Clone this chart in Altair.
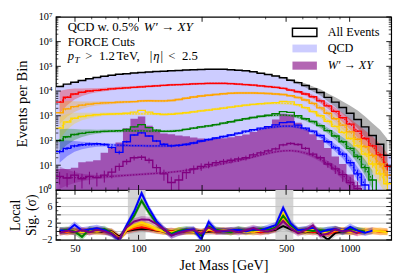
import altair as alt
import numpy as np
import pandas as pd

SERIF = "Liberation Serif"

# ---------------- binning (log-spaced jet-mass bins, GeV) ----------------
N_BINS = 45
M_MIN, M_MAX = 40.6, 1573.0
edges = np.geomspace(M_MIN, M_MAX, N_BINS + 1)
lo_e, hi_e = edges[:-1], edges[1:]
ctr = np.sqrt(lo_e * hi_e)

# ---------------- upper panel: log10(events per bin) ----------------
qcd_log = [4.18, 4.28, 4.36, 4.43, 4.50, 4.55, 4.60, 4.64, 4.68, 4.70, 4.72, 4.74, 4.77, 4.79, 4.80,
           4.82, 4.83, 4.85, 4.86, 4.87, 4.88, 4.88, 4.88, 4.86, 4.84, 4.82, 4.78, 4.72, 4.67, 4.60,
           4.52, 4.42, 4.33, 4.22, 4.08, 3.94, 3.74, 3.55, 3.33, 3.10, 2.85, 2.55, 2.20, 1.85, 1.40]
wprime_log = [0.85, 0.85, 0.90, 1.12, 1.15, 1.20, 1.50, 1.72, 1.92, 2.50, 2.88, 2.97, 2.60, 2.38, 2.28,
              2.25, 2.20, 2.17, 2.12, 2.08, 2.05, 2.06, 2.09, 2.13, 2.18, 2.24, 2.34, 2.45, 2.58, 2.85,
              3.08, 3.05, 2.72, 2.45, 2.25, 2.02, 1.70, 1.35, 1.05, 0.62, 0.20, None, None, None, None]
red_log = [3.55, 3.75, 3.88, 3.95, 4.00, 4.03, 4.06, 4.09, 4.11, 4.13, 4.15, 4.17, 4.19, 4.21, 4.23,
           4.25, 4.26, 4.27, 4.29, 4.30, 4.31, 4.31, 4.31, 4.30, 4.28, 4.26, 4.24, 4.21, 4.18, 4.15,
           4.11, 4.04, 3.97, 3.88, 3.77, 3.60, 3.40, 3.18, 2.92, 2.66, 2.38, 2.08, 1.78, 1.42, 0.95]
orange_log = [3.12, 3.28, 3.37, 3.43, 3.47, 3.50, 3.52, 3.53, 3.55, 3.56, 3.57, 3.60, 3.61, 3.60, 3.60,
              3.62, 3.66, 3.71, 3.76, 3.80, 3.83, 3.86, 3.89, 3.91, 3.92, 3.92, 3.92, 3.91, 3.90, 3.88,
              3.86, 3.81, 3.74, 3.64, 3.50, 3.32, 3.10, 2.88, 2.62, 2.35, 2.05, 1.75, 1.40, 1.05, 0.60]
gold_log = [2.50, 2.75, 2.90, 2.97, 3.01, 3.04, 3.06, 3.07, 3.08, 3.10, 3.15, 3.22, 3.15, 3.08, 3.05,
            3.06, 3.09, 3.12, 3.16, 3.20, 3.23, 3.27, 3.31, 3.35, 3.39, 3.43, 3.46, 3.49, 3.51, 3.53,
            3.58, 3.56, 3.45, 3.33, 3.17, 3.00, 2.78, 2.57, 2.33, 2.08, 1.78, 1.45, 1.05, 0.65, 0.25]
green_log = [2.00, 2.15, 2.24, 2.29, 2.33, 2.35, 2.37, 2.38, 2.40, 2.45, 2.55, 2.64, 2.52, 2.42, 2.37,
             2.37, 2.40, 2.45, 2.50, 2.55, 2.59, 2.64, 2.70, 2.76, 2.82, 2.88, 2.93, 2.98, 3.02, 3.08,
             3.17, 3.14, 3.00, 2.88, 2.77, 2.60, 2.40, 2.18, 1.95, 1.68, 1.35, 0.90, 0.40, None, None]
blue_log = [1.55, 1.68, 1.78, 1.83, 1.86, 1.87, 1.84, 1.72, 1.52, 1.95, 2.22, 2.31, 2.18, 1.98, 1.85,
            1.78, 1.80, 1.84, 1.90, 1.98, 2.04, 2.10, 2.16, 2.22, 2.30, 2.38, 2.44, 2.50, 2.56, 2.63,
            2.72, 2.75, 2.62, 2.50, 2.38, 2.20, 1.95, 1.70, 1.45, 1.10, 0.65, 0.20, None, None, None]
purple_log = [0.55, 0.48, 0.60, 0.45, 0.55, 0.50, 0.60, 0.72, 0.95, 1.15, 1.30, 1.32, 1.20, 0.90, 0.65,
              0.30, 0.40, 0.70, 0.85, 0.95, 1.03, 1.10, 1.15, 1.20, 1.25, 1.30, 1.42, 1.50, 1.58, 1.66,
              1.82, 1.88, 1.84, 1.68, 1.45, 1.30, 1.05, 0.85, 0.62, 0.30, 0.05, None, None, None, None]

# smooth background fits (dotted lines)
gold_fit = [2.50, 2.75, 2.90, 2.97, 3.01, 3.04, 3.06, 3.07, 3.08, 3.08, 3.08, 3.08, 3.08, 3.07, 3.06,
            3.07, 3.09, 3.12, 3.16, 3.20, 3.23, 3.27, 3.31, 3.35, 3.39, 3.43, 3.46, 3.48, 3.50, 3.51,
            3.51, 3.49, 3.43, 3.32, 3.17, 3.00, 2.78, 2.57, 2.33, 2.08, 1.78, 1.45, 1.05, 0.65, 0.25]
green_fit = [2.00, 2.15, 2.24, 2.29, 2.33, 2.35, 2.37, 2.38, 2.38, 2.39, 2.39, 2.39, 2.38, 2.38, 2.37,
             2.38, 2.40, 2.45, 2.50, 2.55, 2.59, 2.64, 2.70, 2.76, 2.82, 2.88, 2.93, 2.97, 3.00, 3.02,
             3.03, 3.01, 2.95, 2.86, 2.75, 2.60, 2.40, 2.18, 1.95, 1.68, 1.35, 0.90, 0.40, None, None]
blue_fit = [1.55, 1.68, 1.76, 1.80, 1.82, 1.83, 1.83, 1.82, 1.81, 1.80, 1.79, 1.79, 1.78, 1.78, 1.78,
            1.79, 1.81, 1.85, 1.90, 1.97, 2.03, 2.09, 2.15, 2.21, 2.28, 2.35, 2.41, 2.46, 2.51, 2.55,
            2.58, 2.58, 2.54, 2.46, 2.35, 2.18, 1.95, 1.70, 1.45, 1.10, 0.65, 0.20, None, None, None]
purple_fit = [0.50, 0.50, 0.50, 0.50, 0.51, 0.52, 0.53, 0.55, 0.57, 0.59, 0.61, 0.63, 0.65, 0.67, 0.69,
              0.72, 0.75, 0.79, 0.84, 0.89, 0.95, 1.01, 1.07, 1.13, 1.19, 1.26, 1.33, 1.41, 1.48, 1.54,
              1.58, 1.59, 1.56, 1.49, 1.38, 1.24, 1.05, 0.85, 0.60, 0.30, 0.05, None, None, None, None]
# half width (in decades) of the fit uncertainty bands
band_hw = [0.45, 0.32, 0.22, 0.15, 0.11, 0.08, 0.07, 0.06, 0.06, 0.05, 0.05, 0.05, 0.05, 0.05, 0.05,
           0.05, 0.05, 0.05, 0.05, 0.05, 0.05, 0.05, 0.05, 0.05, 0.05, 0.05, 0.05, 0.05, 0.05, 0.05,
           0.05, 0.05, 0.06, 0.07, 0.08, 0.10, 0.12, 0.15, 0.18, 0.22, 0.27, 0.32, 0.38, 0.45, 0.50]
all_band_hw = [0.02, 0.02, 0.02, 0.02, 0.02, 0.02, 0.02, 0.02, 0.02, 0.02, 0.02, 0.02, 0.02, 0.02, 0.02,
               0.02, 0.02, 0.02, 0.02, 0.02, 0.02, 0.02, 0.02, 0.02, 0.02, 0.02, 0.02, 0.02, 0.02, 0.02,
               0.03, 0.04, 0.06, 0.08, 0.10, 0.13, 0.16, 0.20, 0.25, 0.30, 0.36, 0.42, 0.50, 0.58, 0.66]

# ---------------- lower panel: local significance (sigma) ----------------
sig_black = [0.0, 0.1, -0.1, 0.0, 0.1, 0.0, -0.1, 0.0, -1.2, 0.1, 0.4, 0.6, 0.5, 0.2, 0.0,
             0.1, -0.1, 0.0, 0.1, 0.0, -0.1, 0.1, 0.0, 0.2, 0.0, 0.1, -0.1, 0.0, 0.1, 0.4,
             1.3, 0.5, 0.0, -0.2, 0.1, -0.6, -2.0, -0.4, 0.1, 0.0, 0.1, None, None, None, None]
sig_red = [0.1, -0.2, 0.2, 0.1, -0.1, 0.2, 0.0, -0.1, -1.5, 0.2, 0.7, 1.0, 0.7, 0.3, 0.0,
           0.1, -0.2, 0.1, 0.0, -0.2, 0.3, 0.0, 0.1, -0.1, 0.2, 0.0, 0.1, -0.2, 0.3, 0.6,
           2.8, 1.0, 0.0, 0.2, -0.2, 0.1, -0.6, 0.0, 0.2, 0.1, -0.3, 0.0, 0.2, -0.1, 0.0]
sig_orange = [-0.2, 0.3, 0.1, 0.0, 0.3, -0.1, 0.2, -0.2, -1.7, 0.3, 1.1, 1.6, 1.1, 0.4, 0.1,
              -0.2, 0.3, 0.0, 0.2, -0.3, 0.4, 0.1, 0.3, 0.0, 0.2, 0.1, -0.2, 0.3, 0.1, 0.8,
              3.3, 1.2, 0.2, -0.1, 0.3, 0.0, -0.4, 0.2, 0.3, -0.2, 0.1, 0.3, 0.0, 0.2, -0.1]
sig_gold = [0.3, 0.0, 0.2, -0.2, 0.1, 0.4, 0.0, -0.3, -1.8, 0.5, 1.5, 2.2, 1.5, 0.6, 0.0,
            -0.3, 0.2, 0.1, -0.1, -0.4, 0.6, 0.3, 0.0, 0.2, 0.4, -0.2, 0.3, 0.1, 0.2, 1.2,
            4.5, 1.8, 0.0, 0.3, 0.5, 0.0, -0.3, 0.4, 0.2, 0.0, 0.3, -0.1, 0.2, 0.0, -0.2]
sig_green = [0.2, 0.4, 0.0, -1.3, 0.5, 0.3, 0.6, -0.4, -1.9, 1.2, 3.8, 7.4, 4.5, 2.0, 0.3,
             -0.5, 0.2, 0.5, 0.2, -1.0, 1.2, 0.4, 0.1, -0.2, 0.5, 0.2, 0.3, 0.6, 0.4, 1.0,
             3.8, 1.5, 0.2, 0.4, 0.1, 0.3, 0.2, 0.5, -0.1, 0.6, 0.3, 0.0, None, None, None]
sig_blue = [0.3, 0.1, 1.6, 0.2, 0.5, 0.8, 0.3, -0.6, -2.1, 1.5, 4.8, 9.2, 5.5, 2.5, 0.5,
            -0.9, -0.2, 0.3, 0.5, -1.9, 2.3, 0.2, 0.0, 0.3, 0.4, 0.0, 0.5, 0.3, 0.9, 1.5,
            5.7, 2.0, 0.3, 0.5, 0.9, -0.2, 0.4, 0.6, 0.0, 1.1, 0.2, -0.3, 0.2, None, None]
sig_purple = [-0.3, 0.2, -0.1, 0.3, -0.2, 0.4, 0.0, -0.5, -1.8, 1.0, 2.4, 2.9, 2.8, 1.8, 0.5,
              -1.0, -0.3, 0.1, 0.3, -0.5, 1.0, 0.0, 0.2, 0.2, -0.2, 0.3, 0.8, 0.2, 0.0, 0.7,
              2.5, 0.8, -0.4, 0.3, 1.5, -1.0, -0.5, 0.5, 0.0, 0.2, -0.4, None, None, None, None]
SIG_BAND = 0.8
signal_windows_lo = [89.0, 445.0]
signal_windows_hi = [108.0, 541.0]

# tick positions
x_major = [50, 100, 200, 500, 1000]
x_minor = [60, 70, 80, 90, 300, 400, 600, 700, 800, 900]
y_major = [10.0 ** k for k in range(8)]
y_minor = [m * 10.0 ** k for k in range(7) for m in range(2, 10)]
s_major = [-2, 0, 2, 4, 6, 8]
s_minor = [-1, 1, 3, 5, 7, 9]
s_grid = [0, 2, 4, 6, 8]

FLOOR = 0.05
W, H_TOP, H_BOT = 343, 177, 51

def counts(logs):
    return [10.0 ** v if v is not None else None for v in logs]

qcd_n = counts(qcd_log)
wp_n = counts(wprime_log)
all_n = [q + (w or 0.0) for q, w in zip(qcd_n, wp_n)]

SERIES = [
    ("red", "#ff0000", counts(red_log), counts(red_log), sig_red),
    ("orange", "#ffa500", counts(orange_log), counts(orange_log), sig_orange),
    ("gold", "#ffd700", counts(gold_log), counts(gold_fit), sig_gold),
    ("green", "#008000", counts(green_log), counts(green_fit), sig_green),
    ("blue", "#0000ff", counts(blue_log), counts(blue_fit), sig_blue),
    ("purple", "#800080", counts(purple_log), counts(purple_fit), sig_purple),
]

def step_df(ns):
    vals = [c if c is not None else FLOOR for c in ns]
    return pd.DataFrame({"m": list(lo_e) + [hi_e[-1]], "n": vals + [vals[-1]], "base": FLOOR})

def err_df(ns):
    rows = [(ctr[i], max(c - np.sqrt(c), FLOOR), c + np.sqrt(c)) for i, c in enumerate(ns) if c is not None]
    return pd.DataFrame(rows, columns=["m", "elo", "ehi"])

def fit_df(ns, hw):
    rows = [(ctr[i], c, c * 10 ** -hw[i], c * 10 ** hw[i]) for i, c in enumerate(ns) if c is not None]
    return pd.DataFrame(rows, columns=["m", "n", "blo", "bhi"])

def sig_df(s):
    rows = [(ctr[i], v, v - SIG_BAND, v + SIG_BAND) for i, v in enumerate(s) if v is not None]
    return pd.DataFrame(rows, columns=["m", "s", "slo", "shi"])

# ---------------- scales and axes ----------------
XS = alt.Scale(type="log", domain=[M_MIN, M_MAX], nice=False)
YS_TOP = alt.Scale(type="log", domain=[1, 1e7], nice=False)
YS_BOT = alt.Scale(domain=[-2, 10], nice=False, zero=False)

TOP_Y_AXIS = alt.Axis(
    values=y_major,
    labelExpr="'10' + ['⁰','¹','²','³','⁴','⁵','⁶','⁷'][round(log(datum.value)/LN10)]",
    ticks=False, domain=False, grid=False, labelFont=SERIF, labelFontSize=10.5,
    labelColor="black", labelPadding=4, minExtent=18, maxExtent=18,
    title="Events per Bin", titleFont=SERIF, titleFontSize=15, titleFontWeight="normal",
    titleColor="black", titlePadding=9,
)
BOT_Y_AXIS = alt.Axis(
    values=s_major, format="d", ticks=False, domain=False, grid=False, labelFont=SERIF,
    labelFontSize=10, labelColor="black", labelPadding=4, minExtent=15, maxExtent=15,
    title=["Local", "Sig. (σ)"], titleFont=SERIF, titleFontSize=14, titleLineHeight=16,
    titleFontWeight="normal", titleColor="black", titlePadding=3,
)
BOT_X_AXIS = alt.Axis(
    values=x_major, format="d", ticks=False, domain=False, grid=False, labelFont=SERIF,
    labelFontSize=10.5, labelColor="black", labelPadding=4, labelFlush=False, labelOverlap=False,
    title="Jet Mass [GeV]", titleFont=SERIF, titleFontSize=14.5, titleFontWeight="normal",
    titleColor="black", titlePadding=5,
)

def tx(f):
    return alt.X(f"{f}:Q", scale=XS, axis=None)

def ty(f):
    return alt.Y(f"{f}:Q", scale=YS_TOP, axis=TOP_Y_AXIS)

def bx(f):
    return alt.X(f"{f}:Q", scale=XS, axis=BOT_X_AXIS)

def by(f):
    return alt.Y(f"{f}:Q", scale=YS_BOT, axis=BOT_Y_AXIS)

def ticks(xenc, yenc, xvals, yvals, h, major):
    L = 5 if major else 2.5
    sw = 0.9 if major else 0.7
    dx = pd.DataFrame({"t": xvals})
    dy = pd.DataFrame({"t": yvals})
    return [
        alt.Chart(dx).mark_rule(color="black", strokeWidth=sw).encode(x=xenc("t"), y=alt.value(0), y2=alt.value(L)),
        alt.Chart(dx).mark_rule(color="black", strokeWidth=sw).encode(x=xenc("t"), y=alt.value(h), y2=alt.value(h - L)),
        alt.Chart(dy).mark_rule(color="black", strokeWidth=sw).encode(y=yenc("t"), x=alt.value(0), x2=alt.value(L)),
        alt.Chart(dy).mark_rule(color="black", strokeWidth=sw).encode(y=yenc("t"), x=alt.value(W), x2=alt.value(W - L)),
    ]

def label(txt, x, y, size, italic=False):
    return alt.Chart(pd.DataFrame({"t": [txt]})).mark_text(
        font=SERIF, fontSize=size, fontStyle="italic" if italic else "normal",
        align="left", baseline="alphabetic", color="black",
    ).encode(x=alt.value(x), y=alt.value(y), text="t:N")

def patch(x1, x2, y1, y2, fill, stroke=None, opacity=1.0):
    kw = dict(fill=fill, fillOpacity=opacity)
    if stroke:
        kw.update(stroke=stroke, strokeWidth=1.5)
    return alt.Chart(pd.DataFrame({"a": [0]})).mark_rect(**kw).encode(
        x=alt.value(x1), x2=alt.value(x2), y=alt.value(y1), y2=alt.value(y2))

# ---------------- upper panel ----------------
top_layers = []
top_layers.append(alt.Chart(step_df(qcd_n)).mark_area(interpolate="step-after", color="#ccccff", clip=True)
                  .encode(x=tx("m"), y=ty("n"), y2=alt.Y2("base")))
top_layers.append(alt.Chart(step_df(wp_n)).mark_area(interpolate="step-after", color="#800080", opacity=0.6, clip=True)
                  .encode(x=tx("m"), y=ty("n"), y2=alt.Y2("base")))
# fit bands
top_layers.append(alt.Chart(fit_df(all_n, all_band_hw)).mark_area(color="#808080", opacity=0.6, clip=True)
                  .encode(x=tx("m"), y=ty("blo"), y2=alt.Y2("bhi")))
for name, col, ns, fit, _ in SERIES:
    top_layers.append(alt.Chart(fit_df(fit, band_hw)).mark_area(color=col, opacity=0.3, clip=True)
                      .encode(x=tx("m"), y=ty("blo"), y2=alt.Y2("bhi")))
# dotted fits
for name, col, ns, fit, _ in SERIES:
    top_layers.append(alt.Chart(fit_df(fit, band_hw)).mark_line(color=col, strokeDash=[1.5, 1.5], strokeWidth=1.2, clip=True)
                      .encode(x=tx("m"), y=ty("n")))
# step histograms with Poisson error bars
for name, col, ns, fit, _ in SERIES:
    top_layers.append(alt.Chart(step_df(ns)).mark_line(interpolate="step-after", color=col, strokeWidth=1.4, clip=True)
                      .encode(x=tx("m"), y=ty("n")))
    top_layers.append(alt.Chart(err_df(ns)).mark_rule(color=col, strokeWidth=1.0, clip=True)
                      .encode(x=tx("m"), y=ty("elo"), y2=alt.Y2("ehi")))
top_layers.append(alt.Chart(step_df(all_n)).mark_line(interpolate="step-after", color="black", strokeWidth=1.5, clip=True)
                  .encode(x=tx("m"), y=ty("n")))
top_layers += ticks(tx, ty, x_major, y_major, H_TOP, True)
top_layers += ticks(tx, ty, x_minor, y_minor, H_TOP, False)
# annotation text
top_layers += [
    label("QCD w. 0.5%", 12, 14.8, 13),
    label("W′  →  XY", 90, 14.8, 13.5, italic=True),
    label("FORCE Cuts", 12, 29.5, 13),
    label("p", 12, 44.5, 13, italic=True),
    label("T", 19.0, 47.5, 9.5, italic=True),
    label(">", 30, 44.5, 13),
    label("1.2", 44, 44.5, 13),
    label("TeV,", 62, 44.5, 13),
    label("|", 96, 44.5, 13),
    label("η", 99.5, 44.5, 13, italic=True),
    label("|", 107, 44.5, 13),
    label("<", 115, 44.5, 13),
    label("2.5", 129, 44.5, 13),
]
# legend
top_layers += [
    patch(242, 267, 11.5, 20, "white", stroke="black"),
    patch(242, 267, 28.3, 36.3, "#ccccff"),
    patch(242, 267, 45.7, 54, "#800080", opacity=0.6),
    label("All Events", 278, 19.7, 12.5),
    label("QCD", 278, 36.3, 12.5),
    label("W′ → XY", 278, 53.3, 12.5, italic=True),
]
top = alt.layer(*top_layers).properties(width=W, height=H_TOP)

# ---------------- lower panel ----------------
bot_layers = []
win = pd.DataFrame({"a": signal_windows_lo, "b": signal_windows_hi})
bot_layers.append(alt.Chart(win).mark_rect(color="#d4d4d4", clip=True)
                  .encode(x=bx("a"), x2=alt.X2("b"), y=alt.value(0), y2=alt.value(H_BOT)))
bot_layers.append(alt.Chart(pd.DataFrame({"g": s_grid})).mark_rule(color="#c4c4c4", strokeWidth=1)
                  .encode(y=by("g"), x=alt.value(0), x2=alt.value(W)))
sig_series = [("black", "#808080", "black", sig_black)] + [(n, c, c, s) for n, c, _, _, s in SERIES]
for name, bandcol, col, s in sig_series:
    bot_layers.append(alt.Chart(sig_df(s)).mark_area(color=bandcol, opacity=0.3, clip=True)
                      .encode(x=bx("m"), y=by("slo"), y2=alt.Y2("shi")))
for name, bandcol, col, s in sig_series:
    bot_layers.append(alt.Chart(sig_df(s)).mark_line(color=col, strokeWidth=2, clip=True)
                      .encode(x=bx("m"), y=by("s")))
bot_layers += ticks(bx, by, x_major, s_major, H_BOT, True)
bot_layers += ticks(bx, by, x_minor, s_minor, H_BOT, False)
bottom = alt.layer(*bot_layers).properties(width=W, height=H_BOT)

chart = (
    alt.vconcat(top, bottom, spacing=0, bounds="flush")
    .properties(padding={"left": 0, "top": 0, "right": 6, "bottom": 2}, background="white")
    .configure_view(stroke="black", strokeWidth=1.2)
)
chart.save("out.html", embed_options={"renderer": "svg", "actions": False})
